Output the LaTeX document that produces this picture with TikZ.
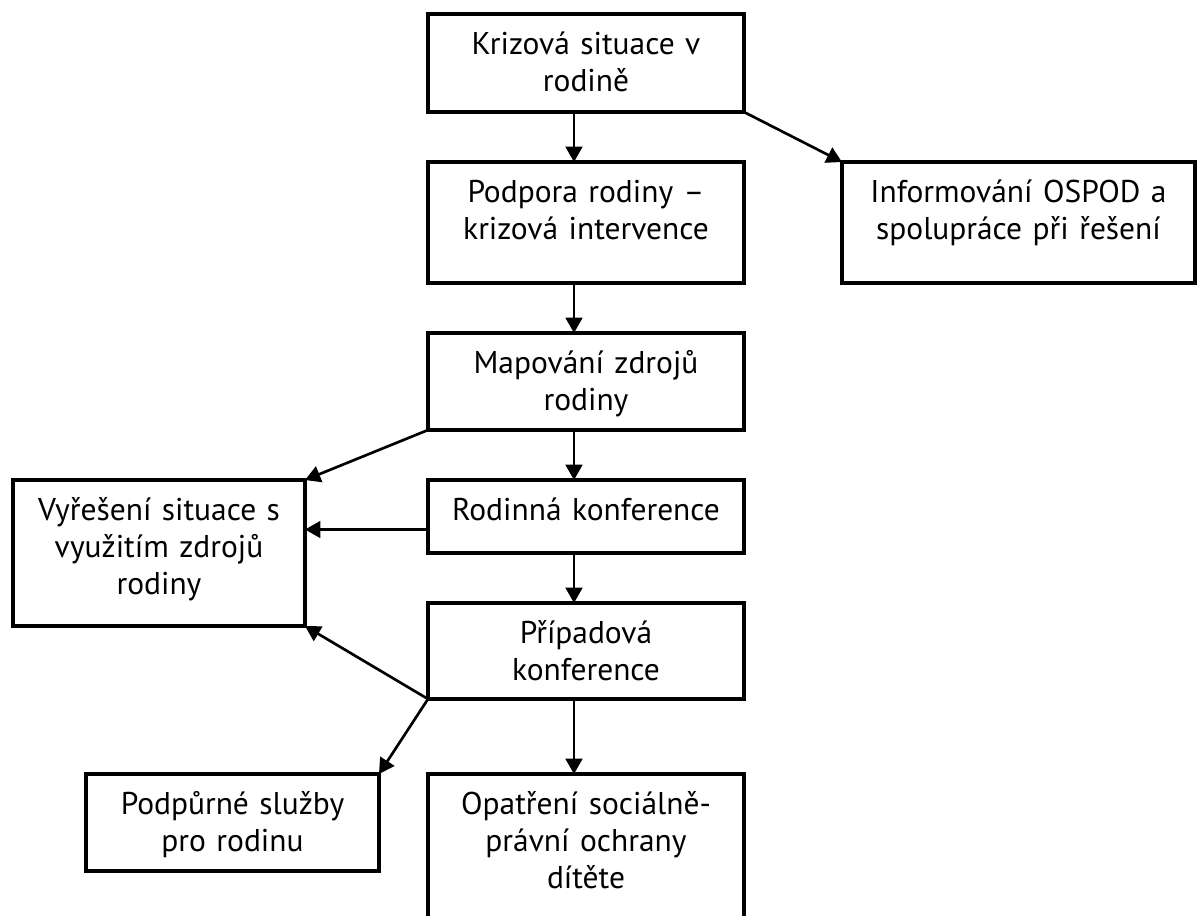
\documentclass[tikz,border=0pt]{standalone}
\usepackage{fontspec}
\setmainfont{PT Sans}
\usepackage{tikz}
\usetikzlibrary{positioning}
\usetikzlibrary{arrows.meta}
\newlength{\gridu}
\setlength{\gridu}{0.75pt}

\begin{document}
\begin{tikzpicture}
	\tikzstyle{box} = [draw, line width=2.5pt, align=center, outer sep=0pt, inner xsep=8\gridu, inner ysep=0pt, text width=300\gridu, text height=40\gridu, font=\fontsize{23.6}{27.75}\selectfont]
	\tikzstyle{arrow} = [line width=2pt, -{Triangle[length=11.5pt, width=12.5pt]}]

	\fill[white] (0,0) rectangle (1197\gridu,-915\gridu);
	\clip (0,0) rectangle (1197\gridu,-915\gridu);

	\node (krize) [box, text depth=58\gridu, anchor=north west] at (428\gridu,-14\gridu) {Krizová situace v\\ rodině};
	\node (podpora) [box, text depth=81\gridu, below=50\gridu of krize] {Podpora rodiny --\\ krizová intervence};
	\node (ospod) [box, text depth=81\gridu, text width=337\gridu, right=98\gridu of podpora] {Informování OSPOD a\\ spolupráce při řešení};
	\node (mapovani) [box, text depth=57\gridu, below=50\gridu of podpora] {Mapování zdrojů\\ rodiny};
	\node (rodinna) [box, text depth=33\gridu, below=50\gridu of mapovani] {Rodinná konference};
	\node (vyreseni) [box, text depth=106\gridu, text width=276\gridu, left=123\gridu of rodinna.north west, anchor=north east] {Vyřešení situace s\\ využitím zdrojů\\ rodiny};
	\node (pripadova) [box, text depth=56\gridu, below=50\gridu of rodinna] {Případová\\ konference};
	\node (opatreni) [box, text depth=140\gridu, below=75\gridu of pripadova] {Opatření sociálně-\\ právní ochrany\\ dítěte};
	\node (podpurne) [box, text depth=57\gridu, text width=277\gridu, left=49\gridu of opatreni.north west, anchor=north east] {Podpůrné služby\\ pro rodinu};

	\draw ([xshift=-12\gridu]krize.south) edge [arrow] ([xshift=-12\gridu]podpora.north);
	\draw (krize.south east) edge [arrow] (ospod.north west);
	\draw ([xshift=-12\gridu]podpora.south) edge [arrow] ([xshift=-12\gridu]mapovani.north);
	\draw ([xshift=-12\gridu]mapovani.south) edge [arrow] ([xshift=-12\gridu]rodinna.north);
	\draw (mapovani.south west) edge [arrow] (vyreseni.north east);
	\draw ([yshift=-13\gridu]rodinna.west) edge [arrow] ([yshift=-13\gridu]rodinna.west -| vyreseni.east);
	\draw ([xshift=-12\gridu]rodinna.south) edge [arrow] ([xshift=-12\gridu]pripadova.north);
	\draw (pripadova.south west) edge [arrow] (vyreseni.south east);
	\draw (pripadova.south west) edge [arrow] (podpurne.north east);
	\draw ([xshift=-12\gridu]pripadova.south) edge [arrow] ([xshift=-12\gridu]opatreni.north);

	\tikzstyle{box} = []
\end{tikzpicture}
\end{document}
